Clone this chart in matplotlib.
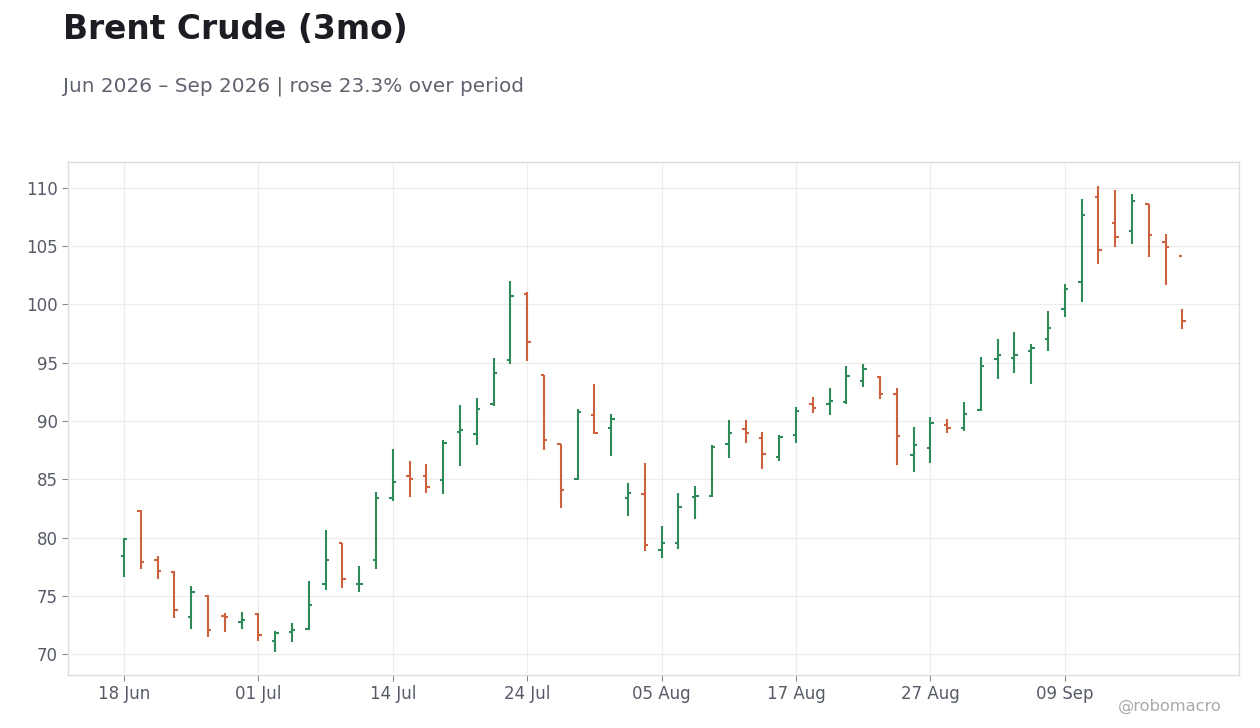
import matplotlib
matplotlib.use("Agg")
import matplotlib.pyplot as plt
import numpy as np
import pandas as pd

# ---- data ----
start_date = "2026-06-18"
holidays = ["2026-06-19", "2026-07-03", "2026-09-07"]

opens = [78.4, 82.3, 78.1, 77.05, 73.2, 75.0, 73.25, 72.75, 73.45, 71.15,
         71.9, 72.15, 76.05, 79.5, 76.0, 78.1, 83.35, 85.3, 85.3, 84.95,
         89.05, 88.85, 91.5, 95.2, 100.9, 93.95, 88.0, 85.0, 90.5, 89.4,
         83.4, 83.7, 78.95, 79.5, 83.45, 83.6, 88.05, 89.35, 88.5, 86.95,
         88.8, 91.45, 91.45, 91.6, 93.45, 93.8, 92.3, 87.05, 87.7, 89.65,
         89.4, 90.95, 95.3, 95.4, 96.0, 97.0, 99.6, 101.9, 109.2, 107.0,
         106.35, 108.6, 105.35, 104.15]
highs = [80.0, 82.4, 78.4, 77.1, 75.8, 75.1, 73.5, 73.6, 73.5, 71.95,
         72.65, 76.3, 80.65, 79.5, 77.55, 83.9, 87.6, 86.55, 86.3, 88.35,
         91.4, 91.95, 95.45, 102.0, 101.1, 93.95, 88.05, 91.05, 93.15, 90.6,
         84.65, 86.4, 81.0, 83.85, 84.45, 87.9, 90.1, 90.1, 89.05, 88.8,
         91.2, 92.1, 92.85, 94.75, 94.85, 93.9, 92.85, 89.5, 90.35, 90.2,
         91.6, 95.5, 97.05, 97.65, 96.6, 99.45, 101.8, 109.05, 110.2, 109.85,
         109.5, 108.6, 106.05, 99.65]
lows = [76.6, 77.3, 76.45, 73.1, 72.15, 71.45, 71.9, 72.15, 71.1, 70.2,
        71.05, 72.05, 75.5, 75.7, 75.3, 77.3, 83.1, 83.45, 83.85, 83.75,
        86.1, 87.9, 91.3, 94.9, 95.15, 87.5, 82.5, 84.95, 88.85, 87.0,
        81.85, 78.8, 78.2, 79.05, 81.55, 83.45, 86.8, 88.15, 85.9, 86.55,
        88.1, 90.65, 90.5, 91.45, 92.9, 91.85, 86.2, 85.6, 86.4, 88.95,
        89.1, 90.85, 93.6, 94.1, 93.2, 96.05, 98.9, 100.25, 103.5, 104.9,
        105.15, 104.1, 101.65, 97.9]
closes = [79.9, 77.9, 77.15, 73.8, 75.35, 72.05, 73.15, 72.95, 71.65, 71.8,
          72.1, 74.25, 78.1, 76.4, 76.05, 83.35, 84.8, 85.05, 84.3, 88.15,
          89.2, 91.0, 94.1, 100.75, 96.75, 88.35, 84.05, 90.75, 89.0, 90.2,
          83.85, 79.4, 79.5, 82.6, 83.6, 87.8, 89.0, 89.0, 87.15, 88.6,
          90.9, 91.1, 91.7, 93.85, 94.45, 92.3, 88.7, 87.9, 89.8, 89.4,
          90.6, 94.7, 95.7, 95.65, 96.3, 97.95, 101.3, 107.65, 104.65, 105.75,
          108.85, 105.95, 104.9, 98.55]
y_ticks = [70, 75, 80, 85, 90, 95, 100, 105, 110]

title = "Brent Crude (3mo)"
subtitle = "Jun 2026 \u2013 Sep 2026 | rose 23.3% over period"
watermark = "@robomacro"

UP = "#2e8b57"
DOWN = "#cc6140"

dates = pd.bdate_range(start_date, periods=len(opens), freq="C", holidays=holidays)
o = np.array(opens); h = np.array(highs); l = np.array(lows); c = np.array(closes)
x = np.arange(len(o))
colors = [UP if cc >= oo else DOWN for oo, cc in zip(o, c)]

fig = plt.figure(figsize=(12.6, 7.28), dpi=100, facecolor="white")
ax = fig.add_axes([68/1260, 1-675/728, (1239-68)/1260, (675-162)/728])
ax.set_facecolor("white")

tw = 0.2
ax.vlines(x, l, h, colors=colors, linewidth=1.5, zorder=3)
ax.hlines(o, x - tw, x, colors=colors, linewidth=1.5, zorder=3)
ax.hlines(c, x, x + tw, colors=colors, linewidth=1.5, zorder=3)

ax.set_xlim(-3.33, 66.37)
ax.set_ylim(68.2, 112.23)
tick_idx = x[::8]
ax.set_xticks(tick_idx)
ax.set_xticklabels([dates[i].strftime("%d %b") for i in tick_idx])
ax.set_yticks(y_ticks)
ax.grid(True, color="#ececec", linewidth=0.8, zorder=0)
ax.set_axisbelow(True)
for s in ax.spines.values():
    s.set_color("#dddddd")
    s.set_linewidth(1.0)
ax.tick_params(axis="both", colors="#888888", labelcolor="#555a66",
               labelsize=12, length=4, width=0.8)

fig.text(63/1260, 1-39/728, title, fontsize=23.7, fontweight="bold",
         color="#1c1c22", va="baseline", ha="left")
fig.text(63/1260, 1-92/728, subtitle, fontsize=14.4, color="#5f636e",
         va="baseline", ha="left")
fig.text(1222/1260, 1-711/728, watermark, fontsize=11.7, color="#aaaaaa",
         va="baseline", ha="right")

fig.savefig("out.png", dpi=100, facecolor=fig.get_facecolor())
